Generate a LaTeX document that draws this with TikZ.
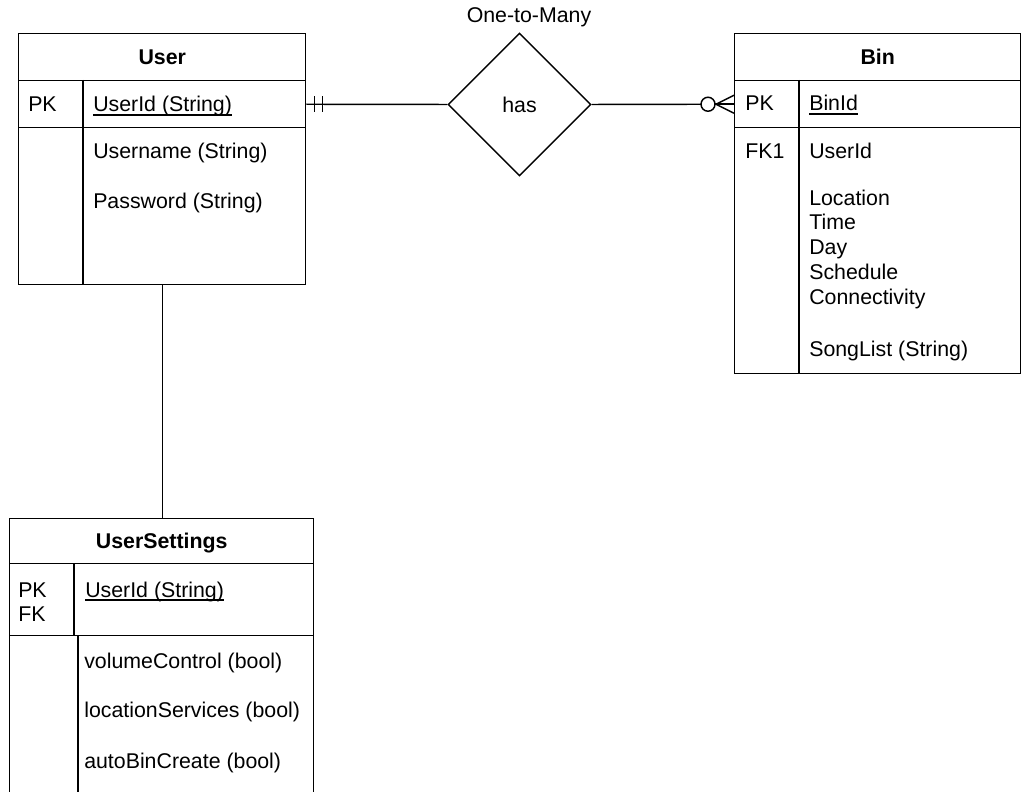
\documentclass[tikz,border=0pt]{standalone}
\usepackage{fontspec}
\setmainfont{Liberation Sans}
\usetikzlibrary{shapes.geometric,calc}
\begin{document}
\begin{tikzpicture}[x=0.75pt,y=-0.75pt,
  every node/.style={font=\fontsize{16}{19}\selectfont},
  ln/.style={line width=1.1pt},
  cell/.style 2 args={draw, line width=1.1pt, anchor=north west, inner sep=0pt,
    minimum width={#1*0.75pt}, minimum height={#2*0.75pt}},
  hdr/.style={font=\fontsize{16}{19}\selectfont\bfseries, text depth=0pt},
  txt/.style={anchor=base west, inner sep=0pt},
  uline/.style={line width=0.8pt},
]
\useasboundingbox (0,0) rectangle (1025,792);
\clip (0,0) rectangle (1025,792);

% ---------- User ----------
\node[cell={287}{47}, hdr] (uh) at (18,33) {User};
\node[cell={287}{47}] (uk) at (18,80) {};
\node[cell={287}{157}] (ub) at (18,127) {};
\draw[ln] (83,80) -- (83,284);
\node[txt] (upk) at (28,112) {PK};
\node[txt] (uid) at (93,112) {UserId (String)};
\draw[uline] ($(uid.base west)+(0,3)$) -- ($(uid.base east)+(0,3)$);
\node[txt] (uname) at (93,158) {Username (String)};
\node[txt] (upass) at (93,208) {Password (String)};

% ---------- Bin ----------
\node[cell={286}{47}, hdr] (bh) at (734,33) {Bin};
\node[cell={286}{47}] (bk) at (734,80) {};
\node[cell={286}{246}] (bb) at (734,127) {};
\draw[ln] (799,80) -- (799,373);
\node[txt] (bpk) at (745,111) {PK};
\node[txt] (bid) at (809,111) {BinId};
\draw[uline] ($(bid.base west)+(0,3)$) -- ($(bid.base east)+(0,3)$);
\node[txt] (bfk) at (745,158) {FK1};
\node[txt] (buid) at (809,158) {UserId};
\node[txt] (bloc) at (809,205) {Location};
\node[txt] (btime) at (809,229) {Time};
\node[txt] (bday) at (809,254) {Day};
\node[txt] (bsched) at (809,279) {Schedule};
\node[txt] (bconn) at (809,304) {Connectivity};
\node[txt] (bsong) at (809,356) {SongList (String)};

% ---------- UserSettings ----------
\node[cell={304}{45}, hdr] (sh) at (9,518) {UserSettings};
\node[cell={304}{72}] (sk) at (9,563) {};
\node[cell={304}{165}] (sb) at (9,635) {};
\draw[ln] (74,563) -- (74,635);
\draw[ln] (78,635) -- (78,800);
\node[txt] (spk) at (18,597) {PK};
\node[txt] (sfk) at (18,621) {FK};
\node[txt] (sid) at (85,597) {UserId (String)};
\draw[uline] ($(sid.base west)+(0,3)$) -- ($(sid.base east)+(0,3)$);
\node[txt] (svol) at (84,668) {volumeControl (bool)};
\node[txt] (sloc) at (84,717) {locationServices (bool)};
\node[txt] (sauto) at (84,768) {autoBinCreate (bool)};

% ---------- Relationship ----------
\node[draw, ln, diamond, aspect=1, inner sep=0pt, minimum size={143*0.75pt}, text depth=0pt] (has) at (519.5,104.5) {has};
\node[anchor=base, inner sep=0pt] (card) at (529,23) {One-to-Many};

% User -- has (one and only one)
\draw[ln] (uk.east) -- (has.west);
\draw[ln] ($(uk.east)+(8,-8)$) -- ($(uk.east)+(8,8)$);
\draw[ln] ($(uk.east)+(16,-8)$) -- ($(uk.east)+(16,8)$);

% has -- Bin (zero or many)
\draw[ln] (has.east) -- ($(bk.west)+(-33,0)$);
\draw[ln] ($(bk.west)+(-26,0)$) circle[radius=5.25pt];
\draw[ln] ($(bk.west)+(0,-9)$) -- ($(bk.west)+(-18,0)$) -- ($(bk.west)+(0,9)$);
\draw[ln] ($(bk.west)+(-19,0)$) -- (bk.west);

% User -- UserSettings
\draw[ln] (ub.south) -- (ub.south |- sh.north);
\end{tikzpicture}
\end{document}
